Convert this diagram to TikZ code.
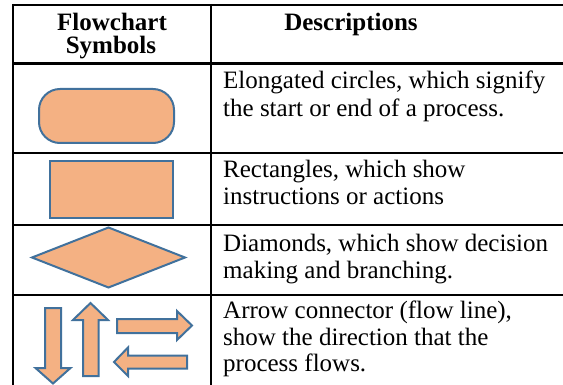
\documentclass[tikz,border=0pt]{standalone}
\usepackage{fontspec}
\setmainfont{Liberation Serif}
\definecolor{symfill}{HTML}{F4B183}
\definecolor{symline}{HTML}{41719C}
\begin{document}
\begin{tikzpicture}[x=1pt,y=-1pt,
  sym/.style={fill=symfill,draw=symline,line width=2pt,line join=miter},
  thick rule/.style={draw=black,line width=2.2pt},
  thin rule/.style={draw=black,line width=1.3pt},
  desc/.style={anchor=base west,inner sep=0pt,font=\fontsize{25}{27}\selectfont},
  head/.style={anchor=base,inner sep=0pt,font=\fontsize{25}{27}\selectfont\bfseries}]
\useasboundingbox (0,0) rectangle (563,385);
% table rules
\draw[thick rule] (12,5) -- (563,5);
\draw[thick rule] (12,63.5) -- (563,63.5);
\draw[thin rule] (12,153) -- (563,153);
\draw[thin rule] (12,225) -- (563,225);
\draw[thick rule] (12,295) -- (563,295);
\draw[line width=2pt] (13,4) -- (13,386);
\draw[line width=1.6pt] (211,4) -- (211,386);
% header
\node[head] (h1a) at (112,30.5) {Flowchart};
\node[head] (h1b) at (111,54) {Symbols};
\node[head] (h2) at (351,30.5) {Descriptions};
% descriptions
\node[desc] (d1a) at (223,89) {Elongated circles, which signify};
\node[desc] (d1b) at (223,116.5) {the start or end of a process.};
\node[desc] (d2a) at (223,178) {Rectangles, which show};
\node[desc] (d2b) at (223,205) {instructions or actions};
\node[desc] (d3a) at (223,251.5) {Diamonds, which show decision};
\node[desc] (d3b) at (223,278.5) {making and branching.};
\node[desc] (d4a) at (223,318) {Arrow connector (flow line),};
\node[desc] (d4b) at (223,345) {show the direction that the};
\node[desc] (d4c) at (223,371.5) {process flows.};
% symbols
\draw[sym,rounded corners=21pt] (39,89) rectangle (174,143);
\draw[sym] (50,161) rectangle (173,218);
\draw[sym] (108.5,227.5) -- (185,257.5) -- (108.5,287.5) -- (32,257.5) -- cycle;
% down arrow
\draw[sym] (45,308) -- (61,308) -- (61,368) -- (70.5,368) -- (53,383.5) -- (35.5,368) -- (45,368) -- cycle;
% up arrow
\draw[sym] (83,376) -- (83,320) -- (73,320) -- (90.5,303) -- (108,320) -- (98.5,320) -- (98.5,376) -- cycle;
% right arrow
\draw[sym] (117,319) -- (177,319) -- (177,311) -- (192,325.5) -- (177,340) -- (177,333) -- (117,333) -- cycle;
% left arrow
\draw[sym] (187,355.5) -- (128,355.5) -- (128,347.5) -- (114,362) -- (128,376) -- (128,368.5) -- (187,368.5) -- cycle;
\end{tikzpicture}
\end{document}
